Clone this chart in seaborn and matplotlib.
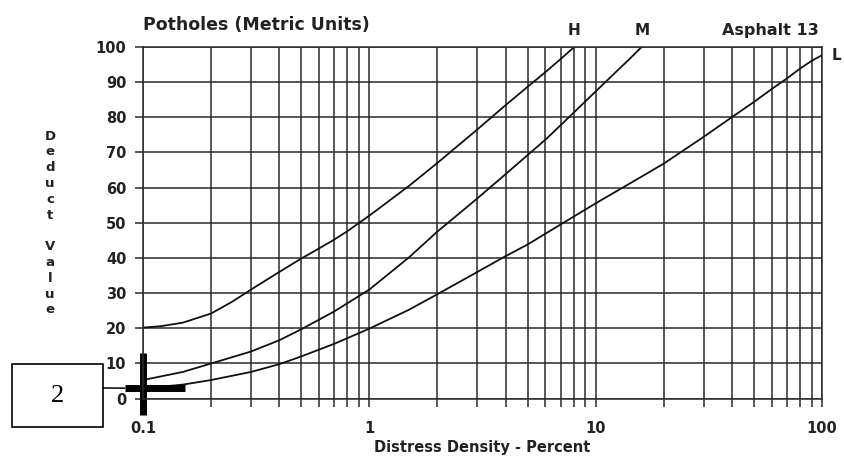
import numpy as np
import pandas as pd
import matplotlib
matplotlib.use("Agg")
import matplotlib.pyplot as plt
import matplotlib.patches as mpatches
from matplotlib.ticker import LogLocator, NullFormatter, FixedLocator, FixedFormatter
import seaborn as sns

sns.set_theme(style="white")
plt.rcParams['font.family'] = ['DejaVu Sans']

# --- data ---
h_density = [0.1, 0.12, 0.15, 0.2, 0.25, 0.3, 0.4, 0.5, 0.6, 0.7, 0.8, 1, 1.5, 2, 3, 4, 5, 6, 7, 8]
h_deduct = [20.2, 20.6, 21.6, 24.2, 27.7, 31, 36, 39.8, 42.7, 45.2, 47.6, 52, 60.5, 67, 76.5, 83.4, 88.6, 92.8, 96.5, 99.8]

m_density = [0.1, 0.15, 0.2, 0.3, 0.4, 0.5, 0.7, 1, 1.5, 2, 3, 4, 5, 6, 7, 8, 10, 12, 14, 16]
m_deduct = [5.3, 7.6, 10, 13.4, 16.6, 19.7, 24.8, 31, 40.2, 47.5, 56.9, 63.8, 69.2, 73.6, 77.7, 81.3, 87.3, 92.2, 96.3, 100]

l_density = [0.1, 0.15, 0.2, 0.3, 0.4, 0.5, 0.7, 1, 1.5, 2, 3, 4, 5, 7, 10, 15, 20, 30, 40, 50, 60, 70, 80, 90, 100]
l_deduct = [2.9, 4, 5.3, 7.6, 9.8, 12, 15.6, 19.9, 25.3, 29.7, 36, 40.5, 43.8, 49.5, 55.5, 62.1, 66.8, 74.4, 80, 84.3, 88, 91, 93.8, 96, 97.6]

x_ticks = [0.1, 1, 10, 100]
x_tick_labels = ["0.1", "1", "10", "100"]
y_ticks = list(range(0, 101, 10))

# marker cross and callout
cross_h_x = [0.083, 0.153]
cross_h_y = [3, 3]
cross_v_x = [0.1, 0.1]
cross_v_y = [-4.5, 13]
callout_text = "2"

df = pd.concat([
    pd.DataFrame({"density": h_density, "deduct": h_deduct, "level": "H"}),
    pd.DataFrame({"density": m_density, "deduct": m_deduct, "level": "M"}),
    pd.DataFrame({"density": l_density, "deduct": l_deduct, "level": "L"}),
])

fig = plt.figure(figsize=(8.44, 4.58), dpi=100)
ax = fig.add_axes([0.1694, 0.1295, 0.8046, 0.7685])

ax.set_xscale("log")
sns.lineplot(data=df, x="density", y="deduct", hue="level", estimator=None,
             sort=False, palette={"H": "#111111", "M": "#111111", "L": "#111111"},
             linewidth=1.3, legend=False, ax=ax)

ax.set_xlim(0.1, 100)
ax.set_ylim(0, 100)

ax.xaxis.set_major_locator(FixedLocator(x_ticks))
ax.xaxis.set_major_formatter(FixedFormatter(x_tick_labels))
ax.xaxis.set_minor_locator(LogLocator(base=10, subs=np.arange(2, 10)))
ax.xaxis.set_minor_formatter(NullFormatter())
ax.yaxis.set_major_locator(FixedLocator(y_ticks))

ax.grid(True, which="both", axis="x", color="#2a2a2a", linewidth=1.1)
ax.grid(True, which="major", axis="y", color="#2a2a2a", linewidth=1.1)
for s in ax.spines.values():
    s.set_color("#2a2a2a")
    s.set_linewidth(1.1)

ax.tick_params(axis="both", which="both", direction="out", color="#2a2a2a",
               width=1.1, length=6, bottom=True, left=True)
ax.tick_params(axis="x", which="major", pad=10)
ax.tick_params(axis="y", which="major", pad=6)
for lab in ax.get_xticklabels() + ax.get_yticklabels():
    lab.set_fontweight("bold")
    lab.set_fontsize(10.5)
    lab.set_color("#222222")

ax.set_xlabel("Distress Density - Percent", fontsize=10.5, fontweight="bold",
              color="#222222", labelpad=3)
ax.set_ylabel("")

ax.set_title("Potholes (Metric Units)", loc="left", fontsize=12.5,
             fontweight="bold", color="#222222", pad=12)

ax.text(0.995, 1.025, "Asphalt 13", transform=ax.transAxes, ha="right",
        va="bottom", fontsize=11.5, fontweight="bold", color="#222222")
ax.text(h_density[-1], 104.5, "H", ha="center", va="center", fontsize=11,
        fontweight="bold", color="#222222", clip_on=False)
ax.text(m_density[-1], 104.5, "M", ha="center", va="center", fontsize=11,
        fontweight="bold", color="#222222", clip_on=False)
ax.annotate("L", xy=(l_density[-1], l_deduct[-1]), xytext=(7, 0),
            textcoords="offset points", ha="left", va="center", fontsize=11,
            fontweight="bold", color="#222222", annotation_clip=False)

# stacked vertical y label
fig.text(50 / 844, 1 - 223 / 458, "D\ne\nd\nu\nc\nt\n\nV\na\nl\nu\ne",
         ha="center", va="center", fontsize=9.5, fontweight="bold",
         color="#222222", linespacing=1.28)

# cross marker
ax.plot(cross_h_x, cross_h_y, color="black", linewidth=5, clip_on=False,
        solid_capstyle="butt")
ax.plot(cross_v_x, cross_v_y, color="black", linewidth=5, clip_on=False,
        solid_capstyle="butt")

# callout box
box = mpatches.Rectangle((12 / 844, 1 - 427 / 458), 91 / 844, 63 / 458,
                         transform=fig.transFigure, fill=False,
                         edgecolor="black", linewidth=1.2)
fig.add_artist(box)
fig.text(57.5 / 844, 1 - 396 / 458, callout_text, ha="center", va="center",
         fontsize=19, family="Liberation Serif", color="black")
ax.annotate("", xy=(cross_h_x[0], cross_h_y[0]), xycoords="data",
            xytext=(103 / 844, 1 - 388 / 458), textcoords="figure fraction",
            arrowprops=dict(arrowstyle="-", color="black", linewidth=1.1,
                            shrinkA=0, shrinkB=0), annotation_clip=False)

fig.savefig("out.png", dpi=100)
